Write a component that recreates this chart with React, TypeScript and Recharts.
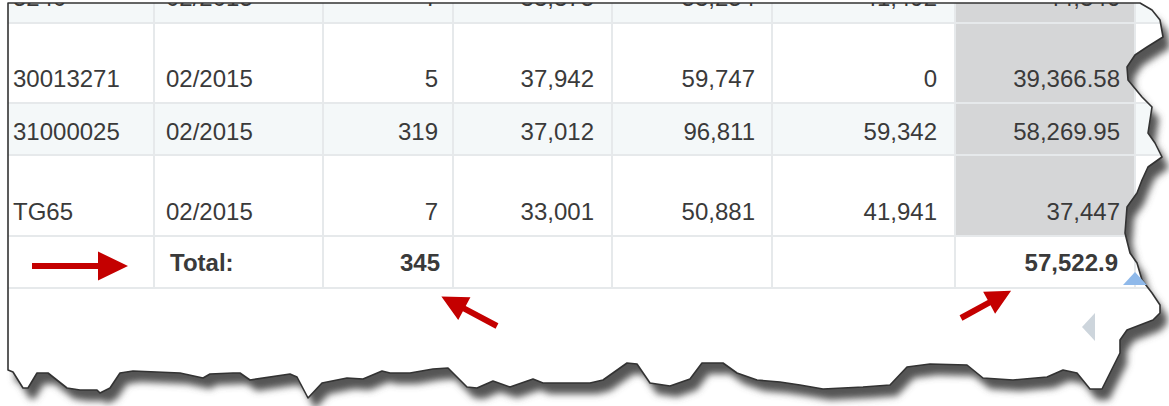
import { ScatterChart, Scatter, XAxis, YAxis, ReferenceArea, ReferenceLine } from 'recharts';

// table rows (first row is cut off at the top of the screenshot)
const materials = ['5240', '30013271', '31000025', 'TG65'];
const periods = ['02/2015', '02/2015', '02/2015', '02/2015'];
const quantities = [7, 5, 319, 7];
const costCurrent = [33375, 37942, 37012, 33001];
const costPlanned = [53254, 59747, 96811, 50881];
const costPrior = [41492, 0, 59342, 41941];
const average = [44346, 39366.58, 58269.95, 37447];

const totalLabel = 'Total:';
const totalQuantity = 345;
const totalAverage = 57522.9;

// layout
const W = 1169;
const H = 406;
const COL_EDGES = [8, 154, 323, 453, 612, 772, 955, 1135];
const ROW_EDGES = [3, 23, 103, 155, 236, 288];
const BASELINES = [6, 87, 140, 220, 271];
const COL_ALIGN = ['start', 'start', 'end', 'end', 'end', 'end', 'end'];
const COL_PAD = [5, 12, 15, 18, 17, 18, 15];
const ROW_FILL = ['#f4f8f9', '#ffffff', '#f4f8f9', '#ffffff', '#ffffff'];
const GRID = '#e6e9eb';
const TEXT = '#3a3a3a';
const FONT = "'Liberation Sans', Arial, sans-serif";

const fmt = (v: number) => v.toLocaleString('en-US', { maximumFractionDigits: 2 });

const colX = (c: number) =>
  COL_ALIGN[c] === 'start' ? COL_EDGES[c] + COL_PAD[c] : COL_EDGES[c + 1] - COL_PAD[c];

type CellPoint = { x: number; y: number; text: string; anchor: string; bold: boolean };

const cells: CellPoint[] = [];
materials.forEach((m, r) => {
  const row = [m, periods[r], fmt(quantities[r]), fmt(costCurrent[r]), fmt(costPlanned[r]), fmt(costPrior[r]), fmt(average[r])];
  row.forEach((text, c) => {
    cells.push({ x: colX(c), y: BASELINES[r], text, anchor: COL_ALIGN[c], bold: false });
  });
});
const totalRow = BASELINES[4];
cells.push({ x: colX(1) + 4, y: totalRow, text: totalLabel, anchor: 'start', bold: true });
cells.push({ x: colX(2) + 2, y: totalRow, text: fmt(totalQuantity), anchor: 'end', bold: true });
cells.push({ x: colX(6) - 2, y: totalRow, text: fmt(totalAverage), anchor: 'end', bold: true });

// red callout arrows: tail point, direction, length
const arrows = [
  { x: 32, y: 266, angle: 0, len: 96, head: 30, hw: 14.5, sw: 3 },
  { x: 497, y: 326, angle: 208, len: 63, head: 26, hw: 13, sw: 3 },
  { x: 961, y: 318, angle: -28.5, len: 57, head: 25, hw: 12.5, sw: 3 },
];

const markers = [
  { x: 1135, y: 279, kind: 'sortUp' },
  { x: 1089, y: 327, kind: 'scrollLeft' },
];

// torn paper outline
const PAPER: [number, number][] = [
  [8, 3], [1140, 3], [1152, 10], [1160, 20], [1163, 37], [1147, 47], [1135, 55], [1127, 67], [1128, 80],
  [1142, 97], [1152, 107], [1150, 120], [1148, 133], [1155, 143], [1162, 157], [1148, 167], [1142, 180],
  [1137, 193], [1127, 207], [1125, 233], [1130, 253], [1137, 263], [1142, 280], [1152, 293], [1160, 305],
  [1160, 313], [1153, 320], [1127, 330], [1120, 340], [1120, 353], [1102, 389], [1090, 389], [1077, 373],
  [1063, 370], [1047, 377], [1013, 380], [983, 378], [967, 365], [930, 364], [907, 367], [890, 385],
  [863, 387], [823, 389], [800, 385], [780, 382], [757, 380], [737, 373], [723, 363], [702, 363],
  [690, 379], [670, 386], [650, 383], [637, 364], [627, 363], [603, 380], [590, 383], [543, 383],
  [533, 379], [510, 387], [493, 381], [477, 388], [467, 387], [448, 368], [433, 369], [410, 373],
  [390, 373], [382, 371], [363, 379], [347, 378], [322, 383], [308, 398], [297, 377], [290, 374],
  [250, 380], [240, 373], [233, 373], [210, 374], [203, 378], [180, 373], [133, 371], [120, 373],
  [110, 388], [100, 393], [97, 390], [80, 390], [67, 388], [48, 373], [37, 373], [28, 388], [23, 388],
  [13, 372], [8, 370],
];
const paperAnchor = [{ x: 0, y: 0 }];

const CellText = (props: any) => {
  const { cx, cy, payload } = props;
  return (
    <text x={cx} y={cy} textAnchor={payload.anchor} fontSize={24} fontFamily={FONT}
      fontWeight={payload.bold ? 'bold' : 'normal'} fill={TEXT}>
      {payload.text}
    </text>
  );
};

const Arrow = (props: any) => {
  const { cx, cy, payload: a } = props;
  const b = a.len - a.head;
  const pts = [[0, -a.sw], [b, -a.sw], [b, -a.hw], [a.len, 0], [b, a.hw], [b, a.sw], [0, a.sw]];
  return (
    <polygon points={pts.map((p) => p.join(',')).join(' ')} fill="#c40000"
      transform={`translate(${cx},${cy}) rotate(${a.angle})`} />
  );
};

const Marker = (props: any) => {
  const { cx, cy, payload } = props;
  if (payload.kind === 'sortUp') {
    return <polygon points={`${cx},${cy - 7} ${cx + 12},${cy + 6} ${cx - 12},${cy + 6}`} fill="#8fb9ea" />;
  }
  return <polygon points={`${cx - 7},${cy} ${cx + 6},${cy - 14} ${cx + 6},${cy + 14}`} fill="#cdd5dc" />;
};

// white out everything beyond the torn edge, then its shadow and outline
const PaperEdge = (props: any) => {
  const { cx, cy } = props;
  const pts = PAPER.map((p) => p.join(',')).join(' ');
  const outside = `M0,0H${W}V${H}H0Z M${PAPER.map((p) => p.join(',')).join('L')}Z`;
  return (
    <g transform={`translate(${cx},${cy})`}>
      <defs>
        <clipPath id="outside-paper">
          <path d={outside} clipRule="evenodd" />
        </clipPath>
        <filter id="paper-shadow" x="-5%" y="-10%" width="110%" height="130%">
          <feGaussianBlur stdDeviation="3.5" />
        </filter>
      </defs>
      <path d={outside} fill="#ffffff" fillRule="evenodd" />
      <g clipPath="url(#outside-paper)">
        <polygon points={pts} fill="#555555" transform="translate(7,11)" filter="url(#paper-shadow)" />
      </g>
      <polygon points={pts} fill="none" stroke="#333333" strokeWidth={1.6} strokeLinejoin="round" />
    </g>
  );
};

export default function App() {
  return (
    <div style={{ position: 'absolute', left: 0, top: 0, width: W, height: H, background: '#fff' }}>
      <ScatterChart width={W} height={H} margin={{ top: 0, right: 0, bottom: 0, left: 0 }}>
        <XAxis type="number" dataKey="x" domain={[0, W]} hide />
        <YAxis type="number" dataKey="y" domain={[0, H]} reversed hide />

        {ROW_FILL.map((fill, r) => (
          <ReferenceArea key={`row-${r}`} x1={COL_EDGES[0]} x2={W} y1={ROW_EDGES[r]} y2={ROW_EDGES[r + 1]}
            fill={fill} fillOpacity={1} stroke="none" ifOverflow="visible" />
        ))}
        <ReferenceArea x1={COL_EDGES[6]} x2={COL_EDGES[7]} y1={ROW_EDGES[0]} y2={ROW_EDGES[4]}
          fill="#d5d6d7" fillOpacity={1} stroke="none" ifOverflow="visible" />

        {ROW_EDGES.slice(1).map((y) => (
          <ReferenceLine key={`h-${y}`} segment={[{ x: COL_EDGES[0], y }, { x: W, y }]}
            stroke={GRID} strokeWidth={2} ifOverflow="visible" />
        ))}
        {COL_EDGES.slice(1).map((x) => (
          <ReferenceLine key={`v-${x}`} segment={[{ x, y: ROW_EDGES[0] }, { x, y: ROW_EDGES[5] }]}
            stroke={GRID} strokeWidth={2} ifOverflow="visible" />
        ))}

        <Scatter data={cells} shape={CellText} isAnimationActive={false} />
        <Scatter data={arrows} shape={Arrow} isAnimationActive={false} />
        <Scatter data={paperAnchor} shape={PaperEdge} isAnimationActive={false} />
        <Scatter data={markers} shape={Marker} isAnimationActive={false} />
      </ScatterChart>
    </div>
  );
}
